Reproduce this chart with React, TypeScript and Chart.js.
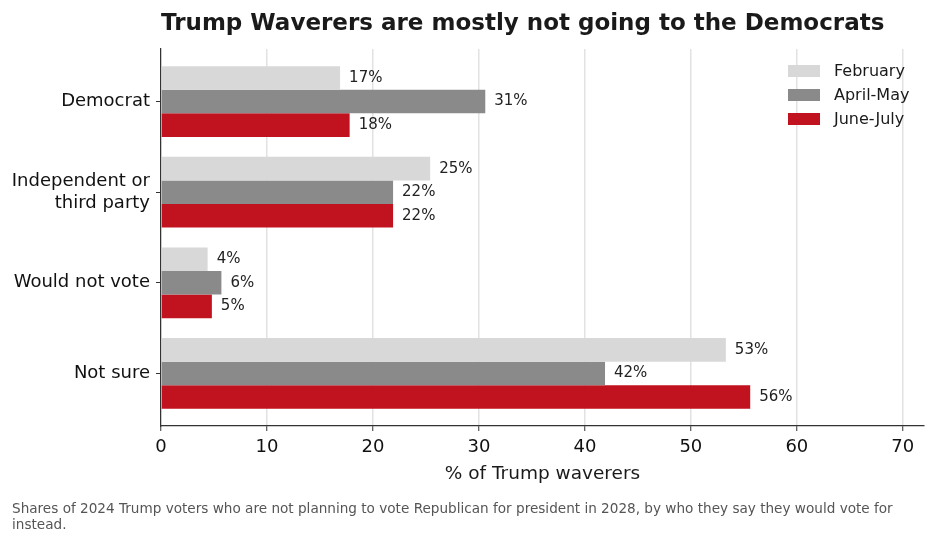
import React, { useEffect, useRef } from "react";
import { Chart, registerables } from "chart.js";

Chart.register(...registerables);

const categories = ["Democrat", "Independent or\nthird party", "Would not vote", "Not sure"];
const seriesNames = ["February", "April-May", "June-July"];
const february = [16.9, 25.4, 4.4, 53.3];
const aprilMay = [30.6, 21.9, 5.7, 41.9];
const juneJuly = [17.8, 21.9, 4.8, 55.6];
const seriesValues = [february, aprilMay, juneJuly];
const seriesColors = ["#d8d8d8", "#8a8a8a", "#c1121f"];
const xTickValues = [0, 10, 20, 30, 40, 50, 60, 70];

const titleText = "Trump Waverers are mostly not going to the Democrats";
const xTitle = "% of Trump waverers";
const footerLines = [
  "Shares of 2024 Trump voters who are not planning to vote Republican for president in 2028, by who they say they would vote for",
  "instead.",
];

const FONT = "'DejaVu Sans', 'Liberation Sans', sans-serif";

export default function App() {
  const ref = useRef<HTMLCanvasElement | null>(null);

  useEffect(() => {
    document.body.style.margin = "0";
    const canvas = ref.current;
    if (!canvas) return;

    const overlay = {
      id: "overlay",
      afterDraw(chart: any) {
        const ctx = chart.ctx as CanvasRenderingContext2D;
        const area = chart.chartArea;
        ctx.save();
        // Title
        ctx.fillStyle = "#1a1a1a";
        ctx.font = `bold 23px ${FONT}`;
        ctx.textAlign = "left";
        ctx.textBaseline = "alphabetic";
        ctx.fillText(titleText, 161, 30);

        // Value labels
        ctx.font = `15px ${FONT}`;
        ctx.fillStyle = "#222";
        ctx.textBaseline = "middle";
        chart.data.datasets.forEach((ds: any, di: number) => {
          const meta = chart.getDatasetMeta(di);
          meta.data.forEach((el: any, i: number) => {
            const v = seriesValues[di][i];
            ctx.fillText(`${Math.round(v)}%`, el.x + 9, el.y);
          });
        });

        // Legend
        ctx.font = `16px ${FONT}`;
        seriesNames.forEach((name, i) => {
          const cy = 71 + i * 24;
          ctx.fillStyle = seriesColors[i];
          ctx.fillRect(788, cy - 6, 32, 12);
          ctx.fillStyle = "#1a1a1a";
          ctx.textBaseline = "middle";
          ctx.fillText(name, 834, cy + 1);
        });

        // X axis title
        ctx.font = `18.5px ${FONT}`;
        ctx.fillStyle = "#1a1a1a";
        ctx.textAlign = "center";
        ctx.textBaseline = "alphabetic";
        ctx.fillText(xTitle, (area.left + area.right) / 2, 479);

        // Footer
        ctx.font = `13.6px ${FONT}`;
        ctx.fillStyle = "#555";
        ctx.textAlign = "left";
        footerLines.forEach((line, i) => {
          ctx.fillText(line, 12, 513 + i * 16);
        });
        ctx.restore();
      },
    };

    const chart = new Chart(canvas, {
      type: "bar",
      data: {
        datasets: seriesNames.map((name, di) => ({
          label: name,
          data: seriesValues[di].map((v, i) => ({ x: v, y: i })),
          backgroundColor: seriesColors[di],
          borderWidth: 0,
          categoryPercentage: 0.78,
          barPercentage: 1,
        })),
      },
      options: {
        indexAxis: "y",
        animation: false,
        responsive: false,
        events: [],
        layout: { padding: { top: 49, right: 12, bottom: 0, left: 0 } },
        plugins: {
          legend: { display: false },
          tooltip: { enabled: false },
          title: { display: false },
        },
        scales: {
          x: {
            type: "linear",
            min: 0,
            max: 72,
            afterFit: (s: any) => {
              s.height = 118;
            },
            afterBuildTicks: (s: any) => {
              s.ticks = xTickValues.map((v) => ({ value: v }));
            },
            ticks: {
              font: { family: FONT, size: 18 },
              color: "#111",
              padding: 6,
              maxRotation: 0,
              includeBounds: false,
            },
            grid: {
              color: "#e2e2e2",
              lineWidth: 1.5,
              tickColor: "#333",
              tickLength: 5,
              tickWidth: 1,
            },
            border: { display: true, color: "#333", width: 1.2 },
          },
          y: {
            type: "linear",
            reverse: true,
            offset: false,
            min: -0.58,
            max: 3.58,
            afterFit: (s: any) => {
              s.width = 161;
            },
            afterDataLimits: (s: any) => {
              s.min = -0.58;
              s.max = 3.58;
            },
            afterBuildTicks: (s: any) => {
              s.ticks = categories.map((_, i) => ({ value: i }));
            },
            ticks: {
              font: { family: FONT, size: 18 },
              color: "#111",
              padding: 6,
              callback: (v: any) => {
                const c = categories[Math.round(Number(v))];
                return c ? c.split("\n") : "";
              },
            },
            grid: {
              offset: false,
              drawOnChartArea: false,
              drawTicks: true,
              tickLength: 5,
              tickColor: "#333",
              tickWidth: 1,
            },
            border: { display: true, color: "#333", width: 1.2 },
          },
        },
      },
      plugins: [overlay],
    } as any);

    return () => chart.destroy();
  }, []);

  return <canvas ref={ref} width={936} height={544} style={{ display: "block" }} />;
}
